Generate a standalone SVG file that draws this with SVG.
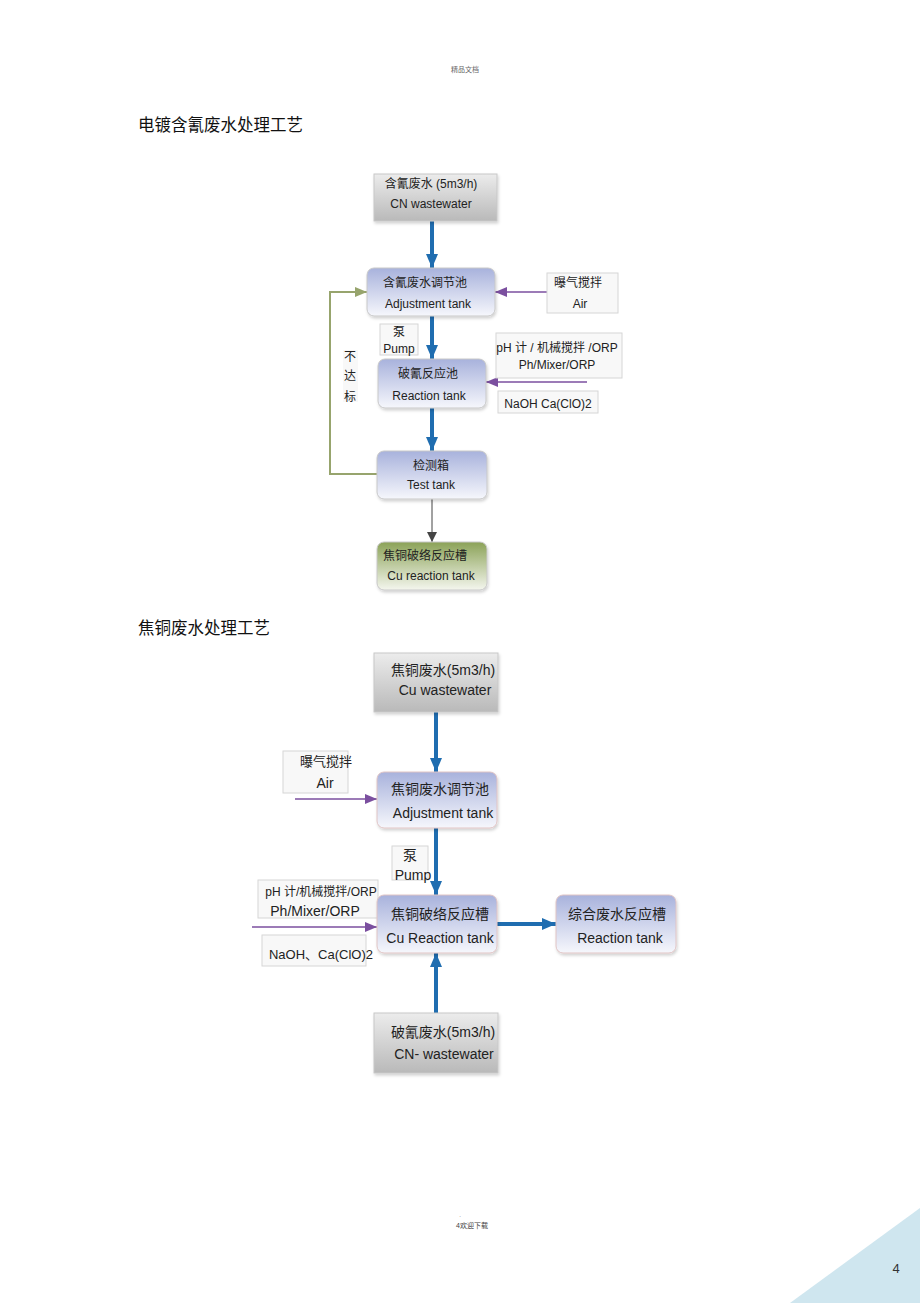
<svg xmlns="http://www.w3.org/2000/svg" width="920" height="1303" viewBox="0 0 920 1303">
<style>
.t{font-family:"Liberation Sans","Noto Sans CJK SC",sans-serif;fill:#222;text-anchor:middle}
.s12{font-size:12px}
.s13{font-size:13px}
.s14{font-size:14px}
.title{font-family:"Noto Sans CJK SC",sans-serif;font-size:16.5px;fill:#111}
.box{stroke:#c8c8c8;stroke-width:1}
.lbl{fill:#f8f8f8;stroke:#d6d6d6;stroke-width:1}
.blue{stroke:#1f6db0;stroke-width:4;fill:none}
.purple{stroke:#7b4f9f;stroke-width:1.5;fill:none}
.olive{stroke:#97a46d;stroke-width:2;fill:none}
.dark{stroke:#444;stroke-width:1;fill:none}
</style>
<defs>
<linearGradient id="gGray" x1="0" y1="0" x2="0" y2="1"><stop offset="0" stop-color="#ececec"/><stop offset="1" stop-color="#b9b9b9"/></linearGradient>
<linearGradient id="gBlue" x1="0" y1="0" x2="0" y2="1"><stop offset="0" stop-color="#a8b2dc"/><stop offset="1" stop-color="#f6f7fc"/></linearGradient>
<linearGradient id="gGreen" x1="0" y1="0" x2="0" y2="1"><stop offset="0" stop-color="#8ba257"/><stop offset="1" stop-color="#f4f6ee"/></linearGradient>
<filter id="sh" x="-10%" y="-10%" width="130%" height="140%"><feDropShadow dx="1" dy="2" stdDeviation="1.5" flood-color="#000" flood-opacity="0.18"/></filter>
<marker id="mBlue" viewBox="0 0 14 12" refX="14" refY="6" markerWidth="14" markerHeight="12" markerUnits="userSpaceOnUse" orient="auto"><path d="M0,0 L14,6 L0,12 Z" fill="#1f6db0"/></marker>
<marker id="mPurple" viewBox="0 0 12 10" refX="12" refY="5" markerWidth="12" markerHeight="10" markerUnits="userSpaceOnUse" orient="auto"><path d="M0,0 L12,5 L0,10 Z" fill="#7b4f9f"/></marker>
<marker id="mOlive" viewBox="0 0 12 10" refX="12" refY="5" markerWidth="12" markerHeight="10" markerUnits="userSpaceOnUse" orient="auto"><path d="M0,0 L12,5 L0,10 Z" fill="#97a46d"/></marker>
<marker id="mDark" viewBox="0 0 10 10" refX="10" refY="5" markerWidth="10" markerHeight="10" markerUnits="userSpaceOnUse" orient="auto"><path d="M0,0 L10,5 L0,10 Z" fill="#444"/></marker>
</defs>
<rect width="920" height="1303" fill="#fff"/>

<g id="page">
<text x="465" y="72" font-family="Noto Sans CJK SC,sans-serif" font-size="7" fill="#666" text-anchor="middle">精品文档</text>
<text x="138" y="131" class="title">电镀含氰废水处理工艺</text>
<text x="138" y="634" class="title">焦铜废水处理工艺</text>
<text x="460" y="1217" font-family="Liberation Sans,sans-serif" font-size="6" fill="#666" text-anchor="middle">.</text>
<text x="472" y="1228" font-family="Liberation Sans,Noto Sans CJK SC,sans-serif" font-size="7" fill="#444" text-anchor="middle">4欢迎下载</text>
<polygon points="790,1303 920,1208 920,1303" fill="#cfe6ef"/>
<text x="896" y="1273" font-family="Liberation Sans,sans-serif" font-size="13" fill="#333" text-anchor="middle">4</text>
</g>

<g id="connectors">
<line x1="432" y1="221" x2="432" y2="268" class="blue" marker-end="url(#mBlue)"/>
<line x1="547" y1="292" x2="495" y2="292" class="purple" marker-end="url(#mPurple)"/>
<line x1="432" y1="316" x2="432" y2="359" class="blue" marker-end="url(#mBlue)"/>
<line x1="587" y1="382" x2="486" y2="382" class="purple" marker-end="url(#mPurple)"/>
<line x1="432" y1="408" x2="432" y2="451" class="blue" marker-end="url(#mBlue)"/>
<polyline points="377,474 330,474 330,292 367,292" class="olive" marker-end="url(#mOlive)"/>
<line x1="432" y1="499" x2="432" y2="542" class="dark" marker-end="url(#mDark)"/>

<line x1="436" y1="712" x2="436" y2="772" class="blue" marker-end="url(#mBlue)"/>
<line x1="295" y1="799" x2="377" y2="799" class="purple" marker-end="url(#mPurple)"/>
<line x1="436" y1="828" x2="436" y2="895" class="blue" marker-end="url(#mBlue)"/>
<line x1="252" y1="927" x2="377" y2="927" class="purple" stroke="#999" marker-end="url(#mPurple)"/>
<line x1="497" y1="924" x2="556" y2="924" class="blue" marker-end="url(#mBlue)"/>
<line x1="436" y1="1015" x2="436" y2="953" class="blue" marker-end="url(#mBlue)"/>
</g>

<g id="cn-wastewater">
<rect x="374" y="174" width="123" height="47" fill="url(#gGray)" class="box" filter="url(#sh)"/>
<text x="431" y="188" class="t s12">含氰废水 (5m3/h)</text>
<text x="431" y="208" class="t s12">CN wastewater</text>
</g>
<g id="adjust1">
<rect x="367" y="268" width="128" height="48" rx="7" fill="url(#gBlue)" class="box" filter="url(#sh)"/>
<text x="425" y="287" class="t s12">含氰废水调节池</text>
<text x="428" y="308" class="t s12">Adjustment tank</text>
</g>
<g id="air1">
<rect x="547" y="273" width="71" height="40" class="lbl"/>
<text x="578" y="287" class="t s12">曝气搅拌</text>
<text x="580" y="308" class="t s12">Air</text>
</g>
<g id="pump1">
<rect x="380" y="324" width="38" height="31" class="lbl"/>
<text x="399" y="336" class="t s12">泵</text>
<text x="399" y="353" class="t s12">Pump</text>
</g>
<g id="reaction1">
<rect x="378" y="359" width="108" height="49" rx="7" fill="url(#gBlue)" class="box" filter="url(#sh)"/>
<text x="428" y="378" class="t s12">破氰反应池</text>
<text x="429" y="400" class="t s12">Reaction tank</text>
</g>
<g id="ph1">
<rect x="496" y="333" width="126" height="45" class="lbl"/>
<text x="557" y="352" class="t s12">pH 计 / 机械搅拌  /ORP</text>
<text x="557" y="369" class="t s12">Ph/Mixer/ORP</text>
</g>
<g id="naoh1">
<rect x="498" y="391" width="100" height="22" class="lbl"/>
<text x="548" y="408" class="t s12">NaOH  Ca(ClO)2</text>
</g>
<g id="notok">
<rect x="343" y="350" width="15" height="52" fill="#f8f8f8"/>
<text x="350" y="361" class="t s12">不</text>
<text x="350" y="380" class="t s12">达</text>
<text x="350" y="401" class="t s12">标</text>
</g>
<g id="test1">
<rect x="377" y="451" width="110" height="48" rx="7" fill="url(#gBlue)" class="box" filter="url(#sh)"/>
<text x="431" y="470" class="t s12">检测箱</text>
<text x="431" y="489" class="t s12">Test tank</text>
</g>
<g id="cu-react1">
<rect x="377" y="542" width="110" height="48" rx="7" fill="url(#gGreen)" class="box" filter="url(#sh)"/>
<text x="425" y="560" class="t s12">焦铜破络反应槽</text>
<text x="431" y="580" class="t s12">Cu reaction tank</text>
</g>

<g id="cu-wastewater">
<rect x="374" y="653" width="124" height="59" fill="url(#gGray)" class="box" filter="url(#sh)"/>
<text x="443" y="675" class="t s14">焦铜废水(5m3/h)</text>
<text x="445" y="695" class="t s14">Cu wastewater</text>
</g>
<g id="air2">
<rect x="283" y="751" width="65" height="42" class="lbl"/>
<text x="326" y="766" class="t s13">曝气搅拌</text>
<text x="325" y="788" class="t s14">Air</text>
</g>
<g id="adjust2">
<rect x="377" y="772" width="120" height="56" rx="7" fill="url(#gBlue)" stroke="#e0c4c4" stroke-width="1" filter="url(#sh)"/>
<text x="440" y="794" class="t s14">焦铜废水调节池</text>
<text x="443" y="818" class="t s14">Adjustment tank</text>
</g>
<g id="pump2">
<rect x="392" y="846" width="36" height="34" class="lbl"/>
<text x="410" y="860" class="t s14">泵</text>
<text x="413" y="880" class="t s14">Pump</text>
</g>
<g id="ph2">
<rect x="258" y="880" width="120" height="38" class="lbl"/>
<text x="321" y="896" class="t s12">pH 计/机械搅拌/ORP</text>
<text x="315" y="916" class="t s14">Ph/Mixer/ORP</text>
</g>
<g id="naoh2">
<rect x="262" y="935" width="104" height="31" class="lbl"/>
<text x="321" y="959" class="t s13">NaOH、Ca(ClO)2</text>
</g>
<g id="cu-react2">
<rect x="377" y="895" width="120" height="58" rx="7" fill="url(#gBlue)" stroke="#e0c4c4" stroke-width="1" filter="url(#sh)"/>
<text x="440" y="919" class="t s14">焦铜破络反应槽</text>
<text x="440" y="943" class="t s14">Cu Reaction tank</text>
</g>
<g id="reaction2">
<rect x="556" y="895" width="120" height="58" rx="7" fill="url(#gBlue)" stroke="#e0c4c4" stroke-width="1" filter="url(#sh)"/>
<text x="617" y="919" class="t s14">综合废水反应槽</text>
<text x="620" y="943" class="t s14">Reaction tank</text>
</g>
<g id="cn2-wastewater">
<rect x="374" y="1013" width="124" height="60" fill="url(#gGray)" class="box" filter="url(#sh)"/>
<text x="443" y="1037" class="t s14">破氰废水(5m3/h)</text>
<text x="444" y="1059" class="t s14">CN- wastewater</text>
</g>
</svg>
